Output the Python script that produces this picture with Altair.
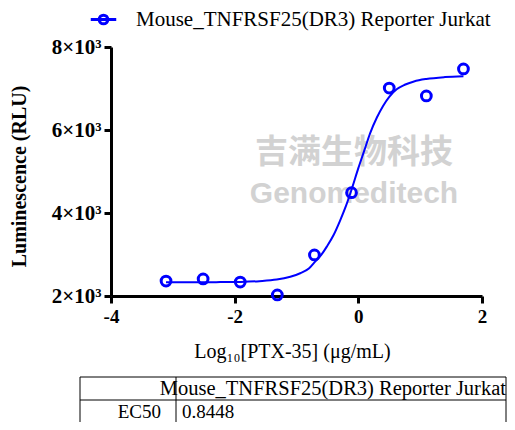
import altair as alt
import pandas as pd

series_name = "Mouse_TNFRSF25(DR3) Reporter Jurkat"

# measured points (log10 concentration, luminescence)
log_conc = [-3.11, -2.51, -1.91, -1.31, -0.71, -0.11, 0.50, 1.10, 1.70]
lum = [2360, 2410, 2335, 2025, 2990, 4490, 7010, 6820, 7470]

# fitted curve
curve_x = [-3.11, -2.7, -2.3, -1.9, -1.6, -1.32, -1.1, -0.94, -0.8, -0.71, -0.6,
           -0.51, -0.4, -0.30, -0.2, -0.11, 0.0, 0.1, 0.19, 0.3, 0.40, 0.5,
           0.62, 0.75, 0.9, 1.1, 1.4, 1.70]
curve_y = [2331, 2332, 2334, 2340, 2358, 2395, 2465, 2548, 2660, 2810, 2990,
           3190, 3470, 3800, 4170, 4560, 5080, 5520, 5920, 6300, 6580, 6800,
           6980, 7090, 7170, 7230, 7275, 7295]

x_ticks = [-4, -2, 0, 2]
y_ticks = [2000, 4000, 6000, 8000]

table_header = series_name
table_row_label = "EC50"
table_row_value = "0.8448"
wm_cn = "吉满生物科技"
wm_en = "Genomeditech"

BLUE = "#0000ff"
SERIF = "Liberation Serif"

pts = pd.DataFrame({"x": log_conc, "y": lum, "series": series_name})
crv = pd.DataFrame({"x": curve_x, "y": curve_y, "series": series_name})

xs = alt.Scale(domain=[-4, 2], nice=False, zero=False)
ys = alt.Scale(domain=[2000, 8000], nice=False, zero=False)

x_axis = alt.Axis(values=x_ticks, title="Log₁₀[PTX-35] (μg/mL)",
                  labelExpr="(datum.value < 0 ? '-' : '') + abs(datum.value)",
                  labelFont=SERIF, labelFontWeight="bold", labelFontSize=19,
                  labelPadding=4,
                  titleFont=SERIF, titleFontWeight="normal", titleFontSize=20,
                  titleX=181, titleY=55, titleBaseline="middle", titleAlign="center")
y_axis = alt.Axis(values=y_ticks, title="Luminescence (RLU)",
                  labelFont=SERIF, labelFontWeight="bold", labelFontSize=21,
                  labelExpr="datum.value/1000 + '×10³'",
                  titleFont=SERIF, titleFontWeight="bold", titleFontSize=20,
                  titleX=-92, titleY=129, titleAngle=270,
                  titleAlign="center", titleBaseline="middle")

color = alt.Color("series:N", scale=alt.Scale(domain=[series_name], range=[BLUE]),
                  legend=alt.Legend(title=None, orient="none", legendX=-22, legendY=-42,
                                    symbolType="M-1,0L1,0M-0.34,0A0.34,0.34,0,1,1,0.34,0A0.34,0.34,0,1,1,-0.34,0",
                                    symbolSize=650, symbolStrokeWidth=3,
                                    symbolFillColor="transparent", symbolStrokeColor=BLUE,
                                    symbolOpacity=1,
                                    labelFont=SERIF, labelFontSize=21, labelColor="black",
                                    labelOffset=18, labelLimit=0))

one = pd.DataFrame({"k": [0]})

wm1 = alt.Chart(one).mark_text(font="Noto Sans CJK SC", fontWeight="bold", fontSize=33,
                               color="#d2d2d2", align="center", baseline="middle").encode(
    x=alt.value(243), y=alt.value(106), text=alt.value(wm_cn))
wm2 = alt.Chart(one).mark_text(font="Liberation Sans", fontWeight="bold", fontSize=30,
                               color="#d2d2d2", align="center", baseline="middle").encode(
    x=alt.value(243), y=alt.value(147), text=alt.value(wm_en))

line = alt.Chart(crv).mark_line(strokeWidth=2, interpolate="monotone", opacity=1).encode(
    x=alt.X("x:Q", scale=xs, axis=x_axis), y=alt.Y("y:Q", scale=ys, axis=y_axis), color=color)
points = alt.Chart(pts).mark_point(shape="circle", filled=False, size=95, strokeWidth=3,
                                   opacity=1).encode(
    x=alt.X("x:Q", scale=xs, axis=x_axis), y=alt.Y("y:Q", scale=ys, axis=y_axis), color=color)

# table below chart
rule_style = dict(color="black", strokeWidth=1)
h1 = alt.Chart(one).mark_rule(**rule_style).encode(x=alt.value(-31), x2=alt.value(395), y=alt.value(330))
h2 = alt.Chart(one).mark_rule(**rule_style).encode(x=alt.value(-31), x2=alt.value(395), y=alt.value(353))
v1 = alt.Chart(one).mark_rule(**rule_style).encode(x=alt.value(-31), y=alt.value(330), y2=alt.value(380))
v2 = alt.Chart(one).mark_rule(**rule_style).encode(x=alt.value(65), y=alt.value(330), y2=alt.value(380))
v3 = alt.Chart(one).mark_rule(**rule_style).encode(x=alt.value(395), y=alt.value(330), y2=alt.value(380))

t_head = alt.Chart(one).mark_text(font=SERIF, fontSize=20.5, color="black", align="right",
                                  baseline="middle").encode(
    x=alt.value(395), y=alt.value(342), text=alt.value(table_header))
t_lab = alt.Chart(one).mark_text(font=SERIF, fontSize=19, color="black", align="right",
                                 baseline="middle").encode(
    x=alt.value(50), y=alt.value(365), text=alt.value(table_row_label))
t_val = alt.Chart(one).mark_text(font=SERIF, fontSize=19, color="black", align="left",
                                 baseline="middle").encode(
    x=alt.value(71), y=alt.value(365), text=alt.value(table_row_value))

chart = alt.layer(wm1, wm2, line, points, h1, h2, v1, v2, v3, t_head, t_lab, t_val).properties(
    width=371, height=249,
    autosize=alt.AutoSizeParams(type="none"),
    padding={"left": 103, "top": 39, "right": 25, "bottom": 126},
    background="white",
).configure_view(strokeWidth=0).configure_axis(
    grid=False, domainWidth=3, domainColor="black", tickWidth=3, tickColor="black",
    tickSize=7, labelFont=SERIF, labelFontWeight="bold",
    labelColor="black", labelPadding=3, labelFlush=False, labelOverlap=False,
    titleFont=SERIF, titleColor="black"
)

chart.save("out.html", embed_options={"renderer": "svg", "actions": False})
